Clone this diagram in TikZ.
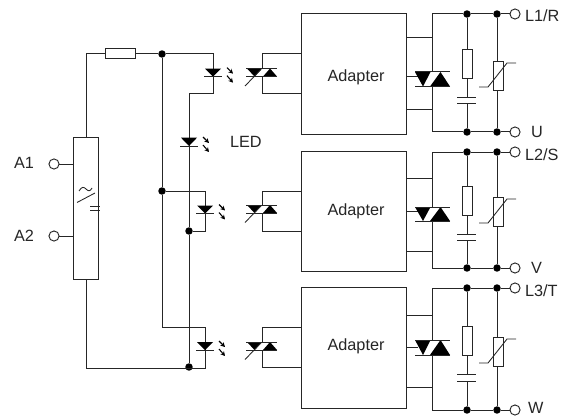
\documentclass[tikz,border=0pt]{standalone}
\usepackage{fontspec}
\setmainfont{Liberation Sans}
\usetikzlibrary{arrows.meta}
\definecolor{ink}{HTML}{262626}
\tikzset{
  wire/.style={draw=ink,line width=0.75pt,line join=miter},
  thin wire/.style={draw=ink,line width=0.65pt},
  solid part/.style={fill=black,draw=none},
  junction/.style={circle,fill=black,draw=none,minimum size=5.6pt,inner sep=0pt,outer sep=0pt},
  terminal/.style={circle,fill=white,draw=ink,line width=0.7pt,minimum size=7.6pt,inner sep=0pt,outer sep=0pt},
  compbox/.style={rectangle,fill=white,draw=ink,line width=0.75pt,inner sep=0pt,outer sep=0pt,minimum width=7.5pt,minimum height=22pt},
  blockbox/.style={rectangle,draw=ink,line width=0.75pt,inner sep=0pt,outer sep=0pt,minimum width=78.75pt},
  lbl/.style={font=\fontsize{12.2pt}{14pt}\selectfont,text=ink,inner sep=0pt,outer sep=0pt,anchor=west},
  ray/.style={draw=black,line width=0.8pt,-{Stealth[length=3.4pt,width=3.6pt]}}
}
% LED: x, top of triangle, bar
\newcommand{\ledsym}[3]{%
  \fill[solid part] ({#1-8},#2) -- ({#1+8},#2) -- (#1,#3) -- cycle;
  \draw[wire] ({#1-9},#3) -- ({#1+9},#3);
  \draw[ray] ({#1+14},{#3-9}) -- ({#1+20},{#3-3});
  \draw[ray] ({#1+14},{#3-1}) -- ({#1+20},{#3+6});
}
\begin{document}
\begin{tikzpicture}[x=0.75pt,y=-0.75pt]
\useasboundingbox (0,0) rectangle (563,417);
% supply module and input side
\node[blockbox,minimum width=18.75pt,minimum height=105.75pt] (psu) at (85.5,208.5) {};
\node[compbox,minimum width=22.5pt,minimum height=7.5pt] (rin) at (120,54) {};
\node[terminal] (a1) at (54,164) {};
\node[terminal] (a2) at (54,236) {};
\node[lbl] (a1t) at (14,163) {A1};
\node[lbl] (a2t) at (14,236) {A2};
\node[lbl] (ledt) at (230,142) {LED};
\node[junction] (j1) at (162,54) {};
\node[junction] (j2) at (162,191) {};
\node[junction] (j3) at (189,231) {};
\node[junction] (j4) at (189,367) {};
\coordinate (c1) at (86,54);
\coordinate (c2) at (86,368);
\coordinate (p1) at (86,138);
\coordinate (p2) at (86,279);
\coordinate (e1) at (213,54);
\coordinate (e2) at (213,94);
\coordinate (e3) at (189,94);
\coordinate (e4) at (205,191);
\coordinate (e5) at (205,231);
\coordinate (e6) at (162,327);
\coordinate (e7) at (205,327);
\coordinate (e8) at (205,368);
\draw[wire] (p1) -- (c1) -- (rin.west);
\draw[wire] (rin.east) -- (j1) -- (e1) -- (e2) -- (e3) -- (j3) -- (j4);
\draw[wire] (p2) -- (c2) -- (e8) -- (e7) -- (e6) -- (j2) -- (j1);
\draw[wire] (j2) -- (e4) -- (e5) -- (j3);
\draw[wire] (a1) -- (a1 -| psu.west);
\draw[wire] (a2) -- (a2 -| psu.west);
% converter symbol
\draw[thin wire] (77,202.5) -- (95,193);
\draw[thin wire] (79,191) .. controls (82,186) and (84,187) .. (86,189) .. controls (88,191) and (90,192) .. (92,188);
\draw[thin wire] (90,206) -- (99.5,206) (90,210.5) -- (99.5,210.5);
% LEDs
\ledsym{213}{68.7}{76.7}
\ledsym{189}{137.7}{146}
\ledsym{205}{205.5}{213.5}
\ledsym{205}{342}{350}
% three output channels
\foreach \n/\ay/\bt/\bb/\la/\lb/\wa/\wb/\ra/\ca/\cb/\va/\ta/\tb/\gt/\oa/\ob/\pa/\pb in {
  1/77.5/14/135/38/110/14/132/49/98/104/61/72/86.5/77/54/94/68.5/76.5,
  2/211/151/271/178/251/152/268/186/234/240/197/207/221/211/191/231/205/213,
  3/346.5/287/408/315/387/288/410/326/374/381/337/340/355/347/327/367/342/350}
{
  \node[blockbox,minimum height={(\bb-\bt)*0.75pt}] (blk\n) at (353.5,{(\bt+\bb)/2}) {};
  \node[lbl,anchor=center] (adp\n) at (356,\ay) {Adapter};
  % opto triac
  \coordinate (oa\n) at (262,\oa);
  \coordinate (ob\n) at (262,\ob);
  \coordinate (pa\n) at (262,\pa);
  \coordinate (pb\n) at (262,\pb);
  \draw[wire] (oa\n -| blk\n.west) -- (oa\n) -- (pa\n);
  \draw[wire] (ob\n -| blk\n.west) -- (ob\n) -- (pb\n);
  \fill[solid part] (247,\pa) -- (262,\pa) -- (254.5,\pb) -- cycle;
  \fill[solid part] (263,\pb) -- (277,\pb) -- (270,\pa) -- cycle;
  \draw[wire] (246,\pa) -- (277,\pa) (246,\pb) -- (277,\pb);
  \draw[thin wire] (245,{\pb+9.5}) -- (261,{\pa+1});
  % power triac
  \coordinate (wa\n) at (432,\wa);
  \coordinate (wb\n) at (432,\wb);
  \coordinate (ta\n) at (432,\ta);
  \coordinate (tb\n) at (432,\tb);
  \coordinate (sa\n) at (432,\la);
  \coordinate (sb\n) at (432,\lb);
  \node[junction] (ja\n) at (467,\wa) {};
  \node[junction] (jb\n) at (467,\wb) {};
  \node[junction] (jc\n) at (497,\wa) {};
  \node[junction] (jd\n) at (497,\wb) {};
  \node[terminal] (ta\n n) at (515,\wa) {};
  \node[terminal] (tb\n n) at (515,\wb) {};
  \draw[wire] (ta\n) -- (wa\n) -- (ja\n) -- (jc\n) -- (ta\n n);
  \draw[wire] (tb\n) -- (wb\n) -- (jb\n) -- (jd\n) -- (tb\n n);
  \draw[wire] (sa\n -| blk\n.east) -- (sa\n);
  \draw[wire] (sb\n -| blk\n.east) -- (sb\n);
  \draw[wire] (blk\n.east |- 0,\gt) -- (418,\gt);
  \fill[solid part] (415,\ta) -- (430.5,\ta) -- (423,\tb) -- cycle;
  \fill[solid part] (430,\tb) -- (450,\tb) -- (440.5,\ta) -- cycle;
  \draw[wire] (415,\ta) -- (450,\ta) (415,\tb) -- (450,\tb);
  % snubber
  \node[compbox] (r\n) at (467,{\ra+14.75}) {};
  \coordinate (ca\n) at (467,\ca);
  \coordinate (cb\n) at (467,\cb);
  \draw[wire] (ja\n) -- (r\n.north);
  \draw[wire] (r\n.south) -- (ca\n);
  \draw[wire] (cb\n) -- (jb\n);
  \draw[wire] (457,\ca) -- (476,\ca) (457,\cb) -- (476,\cb);
  % varistor
  \node[compbox] (v\n) at (498,{\va+14.75}) {};
  \draw[wire] (jc\n) -- (v\n.north -| jc\n);
  \draw[wire] (v\n.south -| jd\n) -- (jd\n);
  \draw[thin wire] (479,{\va+26}) -- (488,{\va+26}) -- (507,{\va+2}) -- (516,{\va+2});
}
\node[lbl] (l1) at (525,16) {L1/R};
\node[lbl] (u) at (531,132) {U};
\node[lbl] (l2) at (525,155) {L2/S};
\node[lbl] (vv) at (531,268) {V};
\node[lbl] (l3) at (525,291) {L3/T};
\node[lbl] (w) at (528,408) {W};
\end{tikzpicture}
\end{document}
